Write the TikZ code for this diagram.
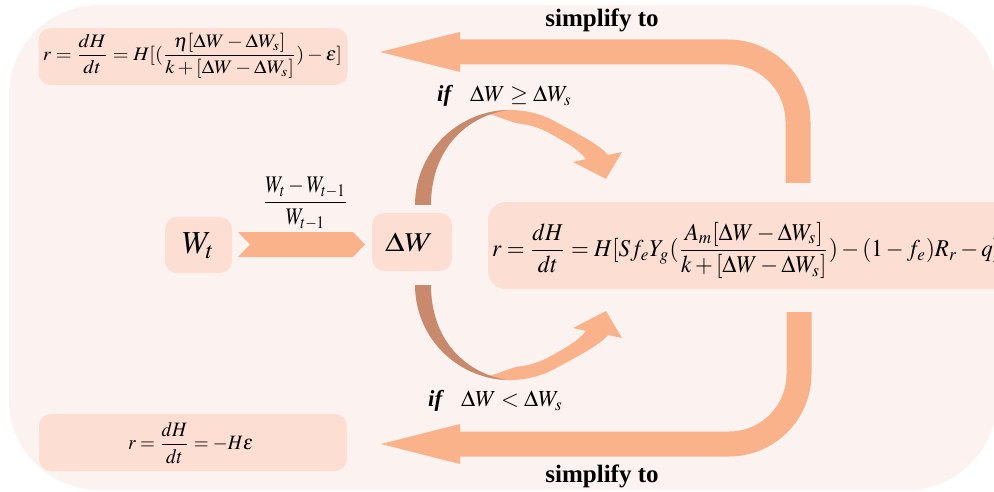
\documentclass[tikz,border=0pt]{standalone}
\usepackage{mathptmx}
\usepackage[no-math]{fontspec}
\setmainfont{Liberation Serif}
\usepackage{graphicx}
\definecolor{bgc}{RGB}{252,243,240}
\definecolor{boxc}{RGB}{252,222,211}
\definecolor{arrc}{RGB}{250,178,138}
\definecolor{brownc}{RGB}{200,137,108}
\tikzset{
  fbox/.style={fill=boxc, rounded corners=12pt, inner sep=0pt},
  bigarrow/.style={draw=arrc, line width=25pt, rounded corners=70pt},
  headfill/.style={fill=arrc},
  lbl/.style={font=\fontsize{25}{30}\selectfont\bfseries, inner sep=0pt},
  cond/.style={font=\fontsize{23}{27}\selectfont, inner sep=0pt},
  mathlbl/.style={inner sep=0pt},
}
% curved arrow, centre of the arc at (510,-40) relative to the scope origin
\newcommand\mycurvedarrow{%
  \fill[arrc] (485.4,-131.8) arc[start angle=255, end angle=300, radius=95]
     .. controls (580,-110) and (600,-100) .. (608,-90)
     -- (622,-93) -- (606,-66) -- (573,-83) -- (586,-86)
     .. controls (576,-98) and (563,-104) .. (551,-111)
     arc[start angle=300, end angle=275, radius=82]
     .. controls (505,-125) and (495,-130) .. (485.4,-131.8) -- cycle;
  \fill[brownc] (415,-40) arc[start angle=180, end angle=268, radius=95]
     .. controls (462,-127) and (431,-92) .. (431,-40) -- cycle;
}
\begin{document}
\begin{tikzpicture}[x=1pt,y=-1pt]
\useasboundingbox (0,0) rectangle (994,492);
\clip (0,0) rectangle (994,492);
% background panel
\fill[bgc, rounded corners=90pt] (9,5) rectangle (997,490);

% formula boxes
\node[fbox, minimum width=309pt, minimum height=57pt] (f1) at (193,56.5) {};
\node[mathlbl] (f1t) at (192.5,55.5) {\resizebox*{299pt}{45pt}{$\displaystyle r=\frac{dH}{dt}=H[(\frac{\eta[\Delta W-\Delta W_s]}{k+[\Delta W-\Delta W_s]})-\varepsilon]$}};

\node[fbox, minimum width=308pt, minimum height=57pt] (f2) at (193,442.5) {};
\node[mathlbl] (f2t) at (190.5,443) {\resizebox*{125pt}{42pt}{$\displaystyle r=\frac{dH}{dt}=-H\varepsilon$}};

\fill[boxc, rounded corners=18pt] (488,202) rectangle (1020,289);
\coordinate (fb) at (488,245.5);
\node[mathlbl, anchor=west] (fbt) at (492,250.5) {\resizebox*{507pt}{57pt}{$\displaystyle r=\frac{dH}{dt}=H[Sf_eY_g(\frac{A_m[\Delta W-\Delta W_s]}{k+[\Delta W-\Delta W_s]})-(1-f_e)R_r-q]$}};

% W_t and Delta W
\node[fbox, minimum width=67pt, minimum height=56pt] (wt) at (198.5,245) {};
\node[mathlbl] (wtt) at (198,246) {\fontsize{32}{36}\selectfont$W_{t}$};
\node[fbox, minimum width=80pt, minimum height=58pt] (dw) at (412,242) {};
\node[mathlbl] (dwt) at (409,242.5) {\resizebox*{48pt}{19pt}{$\Delta W$}};

% chevron arrow
\coordinate (c0) at (238,232);
\coordinate (c1) at (365,244.5);
\fill[arrc] (c0) -- (353,232) -- (c1) -- (353,257) -- (238,257) -- (250,244.5) -- cycle;
\node[mathlbl] (fr) at (305.5,203.5) {\resizebox*{85pt}{53pt}{$\displaystyle\frac{W_t-W_{t-1}}{W_{t-1}}$}};

% curved arrows
\begin{scope}[shift={(0,245)}]
  \mycurvedarrow
\end{scope}
\begin{scope}[shift={(0,245)}, yscale=-1]
  \mycurvedarrow
\end{scope}
\node[cond, anchor=west] (c1t) at (437,96) {\textbf{\textit{if}}\hspace{17pt}$\Delta W\geq\Delta W_s$};
\node[cond, anchor=west] (c2t) at (428,401) {\textbf{\textit{if}}\hspace{17pt}$\Delta W<\Delta W_s$};

% big U arrows
\coordinate (u1s) at (798,183);
\coordinate (u1e) at (459,52);
\draw[bigarrow] (u1s) -- (798,52) -- (u1e);
\fill[headfill] (460,32) -- (380,52) -- (460,72) -- cycle;
\coordinate (u2s) at (799,312);
\coordinate (u2e) at (459,444);
\draw[bigarrow] (u2s) -- (799,444) -- (u2e);
\fill[headfill] (460,424) -- (381,444) -- (460,464) -- cycle;

\node[lbl] (s1) at (602,20) {simplify to};
\node[lbl] (s2) at (602,476) {simplify to};
\end{tikzpicture}
\end{document}
